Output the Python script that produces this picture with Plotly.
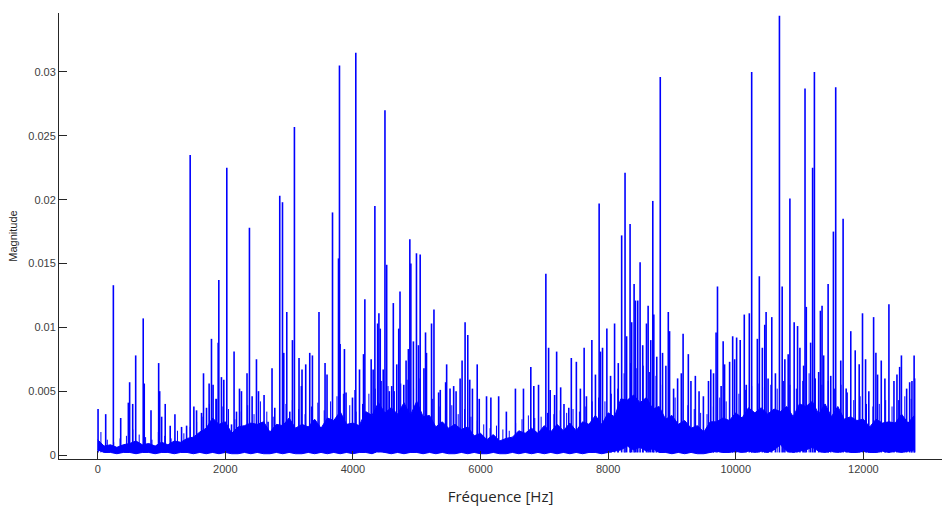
import plotly.graph_objects as go

# ---- data ----
# dense noise floor, sampled every 100 Hz
band_freq = [0, 100, 200, 300, 400, 500, 600, 700, 800, 900, 1000, 1100, 1200, 1300, 1400, 1500,
             1600, 1700, 1800, 1900, 2000, 2100, 2200, 2300, 2400, 2500, 2600, 2700, 2800, 2900,
             3000, 3100, 3200, 3300, 3400, 3500, 3600, 3700, 3800, 3900, 4000, 4100, 4200, 4300,
             4400, 4500, 4600, 4700, 4800, 4900, 5000, 5100, 5200, 5300, 5400, 5500, 5600, 5700,
             5800, 5900, 6000, 6100, 6200, 6300, 6400, 6500, 6600, 6700, 6800, 6900, 7000, 7100,
             7200, 7300, 7400, 7500, 7600, 7700, 7800, 7900, 8000, 8100, 8200, 8300, 8400, 8500,
             8600, 8700, 8800, 8900, 9000, 9100, 9200, 9300, 9400, 9500, 9600, 9700, 9800, 9900,
             10000, 10100, 10200, 10300, 10400, 10500, 10600, 10700, 10800, 10900, 11000, 11100,
             11200, 11300, 11400, 11500, 11600, 11700, 11800, 11900, 12000, 12100, 12200, 12300,
             12400, 12500, 12600, 12700, 12800]
band_high = [0.0012, 0.0007, 0.0008, 0.0006, 0.0008, 0.0009, 0.0011, 0.0008, 0.0009, 0.0007,
             0.0010, 0.0008, 0.0011, 0.0010, 0.0013, 0.0014, 0.0018, 0.0021, 0.0029, 0.0024,
             0.0026, 0.0017, 0.0022, 0.0023, 0.0025, 0.0024, 0.0026, 0.0018, 0.0024, 0.0023,
             0.0029, 0.0021, 0.0024, 0.0022, 0.0028, 0.0021, 0.0029, 0.0027, 0.0034, 0.0024,
             0.0025, 0.0023, 0.0034, 0.0031, 0.0041, 0.0033, 0.0037, 0.0032, 0.0041, 0.0031,
             0.0042, 0.0030, 0.0031, 0.0022, 0.0026, 0.0021, 0.0024, 0.0020, 0.0022, 0.0015,
             0.0017, 0.0012, 0.0016, 0.0011, 0.0013, 0.0014, 0.0019, 0.0017, 0.0021, 0.0017,
             0.0023, 0.0018, 0.0024, 0.0019, 0.0025, 0.0019, 0.0026, 0.0024, 0.0031, 0.0024,
             0.0033, 0.0030, 0.0044, 0.0043, 0.0047, 0.0041, 0.0045, 0.0036, 0.0038, 0.0028,
             0.0031, 0.0024, 0.0027, 0.0021, 0.0023, 0.0018, 0.0026, 0.0026, 0.0029, 0.0027,
             0.0033, 0.0029, 0.0037, 0.0033, 0.0037, 0.0032, 0.0036, 0.0034, 0.0038, 0.0030,
             0.0040, 0.0038, 0.0042, 0.0032, 0.0040, 0.0030, 0.0038, 0.0028, 0.0030, 0.0027,
             0.0028, 0.0022, 0.0028, 0.0025, 0.0026, 0.0025, 0.0032, 0.0025, 0.0031]
band_low = [0.0004, 0.0002, 0.0002, 0.0001, 0.0002, 0.0002, 0.0001, 0.0002, 0.0002, 0.0001,
            0.0002, 0.0002, 0.0001, 0.0002, 0.0002, 0.0001, 0.0002, 0.0001, 0.0002, 0.0001,
            0.0002, 0.0001, 0.0001, 0.0002, 0.0001, 0.0002, 0.0001, 0.0001, 0.0002, 0.0001,
            0.0002, 0.0001, 0.0001, 0.0002, 0.0001, 0.0002, 0.0001, 0.0002, 0.0001, 0.0002,
            0.0001, 0.0002, 0.0002, 0.0001, 0.0003, 0.0002, 0.0001, 0.0002, 0.0001, 0.0002,
            0.0002, 0.0001, 0.0002, 0.0001, 0.0002, 0.0001, 0.0001, 0.0002, 0.0001, 0.0002,
            0.0001, 0.0001, 0.0002, 0.0001, 0.0001, 0.0002, 0.0001, 0.0002, 0.0001, 0.0002,
            0.0001, 0.0002, 0.0001, 0.0002, 0.0001, 0.0002, 0.0001, 0.0002, 0.0002, 0.0001,
            0.0002, 0.0003, 0.0004, 0.0007, 0.0004, 0.0006, 0.0003, 0.0005, 0.0002, 0.0002,
            0.0001, 0.0002, 0.0001, 0.0002, 0.0001, 0.0001, 0.0002, 0.0003, 0.0002, 0.0002,
            0.0003, 0.0002, 0.0003, 0.0002, 0.0003, 0.0002, 0.0004, 0.0008, 0.0003, 0.0002,
            0.0003, 0.0004, 0.0006, 0.0003, 0.0002, 0.0003, 0.0002, 0.0003, 0.0002, 0.0002,
            0.0003, 0.0002, 0.0002, 0.0003, 0.0002, 0.0003, 0.0002, 0.0003, 0.0004]

# local maxima of the noise floor, one per 100 Hz bin (bin centres)
minor_freq = [50, 150, 250, 350, 450, 550, 650, 750, 850, 950, 1050, 1150, 1250, 1350, 1450,
              1550, 1650, 1750, 1850, 1950, 2050, 2150, 2250, 2350, 2450, 2550, 2650, 2750, 2850,
              2950, 3050, 3150, 3250, 3350, 3450, 3550, 3650, 3750, 3850, 3950, 4050, 4150, 4250,
              4350, 4450, 4550, 4650, 4750, 4850, 4950, 5050, 5150, 5250, 5350, 5450, 5550, 5650,
              5750, 5850, 5950, 6050, 6150, 6250, 6350, 6450, 6550, 6650, 6750, 6850, 6950, 7050,
              7150, 7250, 7350, 7450, 7550, 7650, 7750, 7850, 7950, 8050, 8150, 8250, 8350, 8450,
              8550, 8650, 8750, 8850, 8950, 9050, 9150, 9250, 9350, 9450, 9550, 9650, 9750, 9850,
              9950, 10050, 10150, 10250, 10350, 10450, 10550, 10650, 10750, 10850, 10950, 11050,
              11150, 11250, 11350, 11450, 11550, 11650, 11750, 11850, 11950, 12050, 12150, 12250,
              12350, 12450, 12550, 12650, 12750]
minor_mag = [0.0018, 0.0012, 0.0010, 0.0013, 0.0015, 0.0020, 0.0016, 0.0014, 0.0012, 0.0018,
             0.0015, 0.0013, 0.0019, 0.0017, 0.0022, 0.0026, 0.0030, 0.0040, 0.0044, 0.0038,
             0.0036, 0.0028, 0.0034, 0.0039, 0.0032, 0.0042, 0.0034, 0.0030, 0.0036, 0.0040,
             0.0043, 0.0036, 0.0032, 0.0038, 0.0041, 0.0035, 0.0042, 0.0046, 0.0048, 0.0039,
             0.0034, 0.0040, 0.0048, 0.0052, 0.0058, 0.0054, 0.0050, 0.0056, 0.0059, 0.0052,
             0.0060, 0.0048, 0.0044, 0.0038, 0.0035, 0.0039, 0.0032, 0.0036, 0.0030, 0.0027,
             0.0024, 0.0021, 0.0023, 0.0020, 0.0019, 0.0025, 0.0028, 0.0031, 0.0029, 0.0030,
             0.0033, 0.0032, 0.0035, 0.0033, 0.0036, 0.0034, 0.0038, 0.0042, 0.0045, 0.0042,
             0.0048, 0.0052, 0.0064, 0.0072, 0.0068, 0.0070, 0.0065, 0.0062, 0.0055, 0.0048,
             0.0045, 0.0042, 0.0039, 0.0036, 0.0033, 0.0032, 0.0038, 0.0045, 0.0042, 0.0046,
             0.0048, 0.0051, 0.0054, 0.0056, 0.0053, 0.0055, 0.0052, 0.0058, 0.0055, 0.0052,
             0.0058, 0.0064, 0.0060, 0.0055, 0.0058, 0.0052, 0.0055, 0.0049, 0.0043, 0.0046,
             0.0040, 0.0038, 0.0040, 0.0043, 0.0038, 0.0043, 0.0046, 0.0044]

# individual spectral lines (Hz, magnitude)
spike_freq = [5, 125, 245, 360, 480, 500, 548, 595, 713, 729, 835, 955, 971, 1002, 1058, 1136,
              1210, 1314, 1393, 1449, 1507, 1549, 1627, 1658, 1705, 1746, 1783, 1808, 1861, 1888,
              1898, 1939, 1976, 2023, 2097, 2137, 2175, 2222, 2253, 2340, 2378, 2420, 2488, 2520,
              2607, 2670, 2732, 2775, 2853, 2896, 2916, 2963, 3010, 3052, 3083, 3155, 3192, 3202,
              3260, 3323, 3365, 3468, 3563, 3594, 3680, 3774, 3789, 3799, 3867, 3892, 3993, 4034,
              4045, 4103, 4166, 4187, 4286, 4317, 4344, 4387, 4407, 4428, 4475, 4502, 4529, 4570,
              4608, 4633, 4687, 4718, 4738, 4797, 4833, 4869, 4892, 4908, 4948, 4996, 5027, 5054,
              5113, 5138, 5153, 5232, 5270, 5343, 5369, 5453, 5469, 5522, 5579, 5617, 5680, 5711,
              5758, 5800, 5831, 5873, 5948, 5980, 6094, 6162, 6284, 6405, 6547, 6673, 6788, 6835,
              6909, 7024, 7067, 7092, 7161, 7193, 7256, 7308, 7383, 7423, 7502, 7565, 7624, 7660,
              7745, 7801, 7859, 7880, 7912, 7980, 8038, 8101, 8159, 8212, 8265, 8290, 8344, 8369,
              8407, 8428, 8464, 8501, 8542, 8601, 8627, 8668, 8700, 8716, 8762, 8817, 8853, 8905,
              8943, 8963, 9026, 9089, 9147, 9175, 9257, 9298, 9367, 9425, 9493, 9573, 9609, 9652,
              9692, 9714, 9771, 9803, 9825, 9904, 9952, 9983, 10014, 10070, 10134, 10165, 10213,
              10250, 10339, 10370, 10417, 10455, 10476, 10507, 10565, 10622, 10685, 10728, 10770,
              10822, 10849, 10916, 10969, 11006, 11064, 11086, 11106, 11174, 11205, 11233, 11300,
              11327, 11353, 11378, 11448, 11489, 11531, 11567, 11646, 11683, 11731, 11803, 11873,
              11935, 11987, 12035, 12086, 12161, 12197, 12223, 12281, 12338, 12401, 12480, 12527,
              12569, 12597, 12679, 12726, 12762, 12804, 12796]
spike_mag = [0.0036, 0.0032, 0.0133, 0.0029, 0.0041, 0.0057, 0.0040, 0.0078, 0.0107, 0.0056,
             0.0035, 0.0072, 0.0050, 0.0030, 0.0040, 0.0023, 0.0032, 0.0022, 0.0023, 0.0235,
             0.0038, 0.0035, 0.0033, 0.0064, 0.0037, 0.0056, 0.0091, 0.0055, 0.0044, 0.0088,
             0.0137, 0.0061, 0.0059, 0.0225, 0.0024, 0.0081, 0.0034, 0.0052, 0.0050, 0.0064,
             0.0178, 0.0046, 0.0075, 0.0050, 0.0047, 0.0026, 0.0068, 0.0037, 0.0203, 0.0198,
             0.0080, 0.0112, 0.0034, 0.0090, 0.0257, 0.0076, 0.0054, 0.0067, 0.0071, 0.0080,
             0.0078, 0.0112, 0.0072, 0.0063, 0.0190, 0.0154, 0.0305, 0.0087, 0.0083, 0.0049,
             0.0045, 0.0051, 0.0315, 0.0067, 0.0079, 0.0122, 0.0075, 0.0067, 0.0195, 0.0103,
             0.0111, 0.0099, 0.0067, 0.0270, 0.0149, 0.0050, 0.0054, 0.0119, 0.0071, 0.0099,
             0.0128, 0.0055, 0.0074, 0.0083, 0.0169, 0.0150, 0.0089, 0.0158, 0.0086, 0.0157,
             0.0068, 0.0096, 0.0080, 0.0103, 0.0114, 0.0049, 0.0051, 0.0057, 0.0071, 0.0052,
             0.0054, 0.0050, 0.0060, 0.0074, 0.0104, 0.0094, 0.0059, 0.0052, 0.0071, 0.0044,
             0.0046, 0.0045, 0.0046, 0.0034, 0.0052, 0.0052, 0.0069, 0.0054, 0.0055, 0.0142,
             0.0084, 0.0051, 0.0047, 0.0081, 0.0053, 0.0040, 0.0037, 0.0076, 0.0073, 0.0052,
             0.0084, 0.0046, 0.0090, 0.0063, 0.0197, 0.0081, 0.0084, 0.0099, 0.0062, 0.0103,
             0.0072, 0.0172, 0.0221, 0.0093, 0.0181, 0.0104, 0.0134, 0.0121, 0.0121, 0.0151,
             0.0086, 0.0103, 0.0117, 0.0090, 0.0199, 0.0110, 0.0077, 0.0296, 0.0080, 0.0070,
             0.0112, 0.0097, 0.0052, 0.0060, 0.0064, 0.0095, 0.0079, 0.0058, 0.0062, 0.0050,
             0.0046, 0.0058, 0.0067, 0.0064, 0.0096, 0.0132, 0.0054, 0.0089, 0.0071, 0.0073,
             0.0093, 0.0075, 0.0092, 0.0090, 0.0110, 0.0055, 0.0111, 0.0300, 0.0091, 0.0140,
             0.0084, 0.0102, 0.0112, 0.0060, 0.0108, 0.0064, 0.0344, 0.0132, 0.0075, 0.0079,
             0.0201, 0.0104, 0.0101, 0.0084, 0.0070, 0.0287, 0.0116, 0.0088, 0.0225, 0.0300,
             0.0065, 0.0113, 0.0117, 0.0078, 0.0134, 0.0062, 0.0175, 0.0288, 0.0074, 0.0185,
             0.0052, 0.0097, 0.0082, 0.0071, 0.0111, 0.0075, 0.0050, 0.0108, 0.0080, 0.0063,
             0.0074, 0.0060, 0.0118, 0.0058, 0.0063, 0.0069, 0.0078, 0.0052, 0.0057, 0.0058,
             0.0060, 0.0078, 0.0045]

x_tick_vals = [0, 2000, 4000, 6000, 8000, 10000, 12000]
x_tick_text = ["0", "2000", "4000", "6000", "8000", "10000", "12000"]
y_tick_vals = [0, 0.005, 0.01, 0.015, 0.02, 0.025, 0.03]
y_tick_text = ["0", "0.005", "0.01", "0.015", "0.02", "0.025", "0.03"]

BLUE = "#0000FF"
spike_base = 0.0002

fig = go.Figure()
fig.add_trace(go.Scatter(x=band_freq, y=band_low, mode="lines",
                         line=dict(color=BLUE, width=1), hoverinfo="skip"))
fig.add_trace(go.Scatter(x=band_freq, y=band_high, mode="lines", fill="tonexty",
                         fillcolor=BLUE, line=dict(color=BLUE, width=1), hoverinfo="skip"))

mx, my = [], []
for f, m in zip(minor_freq, minor_mag):
    mx += [f, f, None]
    my += [spike_base, m, None]
fig.add_trace(go.Scatter(x=mx, y=my, mode="lines", line=dict(color=BLUE, width=1),
                         hoverinfo="skip"))

sx, sy = [], []
for f, m in zip(spike_freq, spike_mag):
    sx += [f, f, None]
    sy += [spike_base, m, None]
fig.add_trace(go.Scatter(x=sx, y=sy, mode="lines", line=dict(color=BLUE, width=1.6),
                         hoverinfo="skip"))

axis_font = dict(family="Liberation Sans, Arial, sans-serif", size=11, color="#404040")
fig.update_layout(
    width=942, height=510,
    margin=dict(l=59, r=0, t=13, b=51),
    plot_bgcolor="white", paper_bgcolor="white",
    showlegend=False,
)
fig.update_xaxes(
    range=[-607, 13233], tickvals=x_tick_vals, ticktext=x_tick_text,
    ticks="inside", ticklen=8, tickcolor="#262626", tickwidth=1,
    showline=True, linecolor="#262626", linewidth=1,
    showgrid=False, zeroline=False, tickfont=axis_font,
    title=dict(text="Fréquence [Hz]", standoff=17,
               font=dict(family="Open Sans, Noto Sans, sans-serif", size=15, color="#262626")),
)
fig.update_yaxes(
    range=[-0.000313, 0.03462], tickvals=y_tick_vals, ticktext=y_tick_text,
    ticks="inside", ticklen=8, tickcolor="#262626", tickwidth=1,
    showline=True, linecolor="#262626", linewidth=1,
    showgrid=False, zeroline=False, tickfont=axis_font,
    title=dict(text="Magnitude", standoff=8,
               font=dict(family="Liberation Sans, Arial, sans-serif", size=11, color="#262626")),
)

fig.write_html("out.html")
